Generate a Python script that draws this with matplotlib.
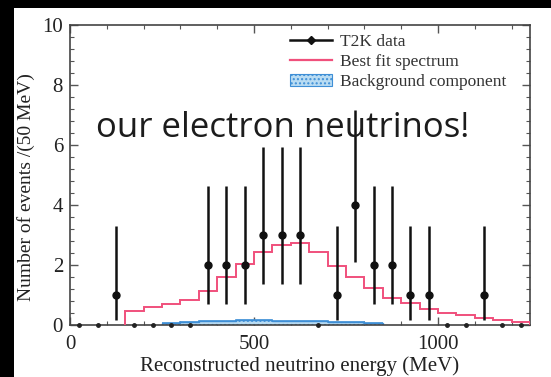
import matplotlib.pyplot as plt
from matplotlib.lines import Line2D
from matplotlib.patches import Patch, Rectangle
from matplotlib.ticker import MultipleLocator

# T2K electron-neutrino candidates, 50 MeV bins
bin_centres = [25, 75, 125, 175, 225, 275, 325, 375, 425, 475, 525, 575, 625,
               675, 725, 775, 825, 875, 925, 975, 1025, 1075, 1125, 1175, 1225]
counts = [0, 0, 1, 0, 0, 0, 0, 2, 2, 2, 3, 3, 3,
          0, 1, 4, 2, 2, 1, 1, 0, 0, 1, 0, 0]

# 68% Poisson intervals for n = 0..4
err_low = [0.0, 0.17, 0.71, 1.37, 2.09]
err_high = [0.0, 3.30, 4.64, 5.92, 7.16]

# best fit spectrum (events / 50 MeV)
fit_edges = list(range(150, 1251, 50))
fit_values = [0.48, 0.59, 0.70, 0.83, 1.14, 1.60, 2.03, 2.42, 2.67, 2.72, 2.42,
              1.98, 1.59, 1.22, 0.91, 0.74, 0.53, 0.41, 0.32, 0.22, 0.17, 0.11]

# background component
bkg_edges = list(range(250, 851, 50))
bkg_values = [0.06, 0.09, 0.12, 0.15, 0.17, 0.16, 0.15, 0.14, 0.12, 0.11, 0.10, 0.08]

serif = "Liberation Serif"

fig = plt.figure(figsize=(5.51, 3.77), dpi=100)
fig.patch.set_facecolor("black")
fig.add_artist(Rectangle((14 / 551, 0), 1, 1 - 8 / 377, transform=fig.transFigure,
                         facecolor="white", edgecolor="none", zorder=-10))

ax = fig.add_axes([70 / 551, 52 / 377, 460 / 551, 300 / 377])
ax.set_facecolor("white")

# background histogram
ax.stairs(bkg_values, bkg_edges, baseline=0, fill=True, facecolor="#b9dcf3",
          edgecolor="#3f8fd6", hatch="....", linewidth=1.0, zorder=2)
ax.stairs(bkg_values, bkg_edges, baseline=None, color="#3f8fd6", linewidth=1.2, zorder=3)

# best fit
ax.stairs(fit_values, fit_edges, baseline=0, color="#f0507c", linewidth=1.4, zorder=4)

# data with error bars
for x, n in zip(bin_centres, counts):
    if n == 0:
        ax.plot(x, 0, "o", color="#222222", ms=2.5, zorder=6, clip_on=False)
        continue
    ax.vlines(x, err_low[n], err_high[n], color="#111111", linewidth=1.8, zorder=5)
    ax.plot(x, n, "o", color="#111111", ms=5, zorder=6)

ax.set_xlim(0, 1250)
ax.set_ylim(0, 10)
ax.xaxis.set_major_locator(MultipleLocator(500))
ax.xaxis.set_minor_locator(MultipleLocator(100))
ax.yaxis.set_major_locator(MultipleLocator(2))
ax.yaxis.set_minor_locator(MultipleLocator(0.4))
ax.tick_params(which="both", direction="in", top=True, right=True, color="#555555")
ax.tick_params(which="major", length=6, width=1.0)
ax.tick_params(which="minor", length=3, width=0.8)
ax.tick_params(axis="y", labelsize=15, pad=5)
ax.tick_params(axis="x", labelsize=15, pad=7)
for lab in ax.get_xticklabels() + ax.get_yticklabels():
    lab.set_fontfamily(serif)
    lab.set_color("#222222")
for sp in ax.spines.values():
    sp.set_color("#444444")
    sp.set_linewidth(1.2)

ax.set_xlabel("Reconstructed neutrino energy (MeV)", family=serif, fontsize=15,
              color="#222222", labelpad=2)
ax.set_ylabel("Number of events /(50 MeV)", family=serif, fontsize=14,
              color="#222222")
ax.yaxis.set_label_coords(-0.075, 0.46)

handles = [
    Line2D([0], [0], color="#111111", lw=1.8, marker="D", ms=4),
    Line2D([0], [0], color="#f0507c", lw=1.6),
    Patch(facecolor="#b9dcf3", edgecolor="#3f8fd6", hatch="....", lw=0.8),
]
labels = ["T2K data", "Best fit spectrum", "Background component"]
ax.legend(handles, labels, loc="upper left", bbox_to_anchor=(0.478, 0.97),
          frameon=False, borderaxespad=0, borderpad=0, handlelength=2.4,
          handletextpad=0.5, labelspacing=0.22,
          prop={"family": serif, "size": 12.5}, labelcolor="#333333")

ax.text(0.056, 0.627, "our electron neutrinos!", transform=ax.transAxes,
        family="Open Sans", fontsize=25, color="#1c1c1c", zorder=10)

fig.savefig("out.png", dpi=100, facecolor=fig.get_facecolor())
